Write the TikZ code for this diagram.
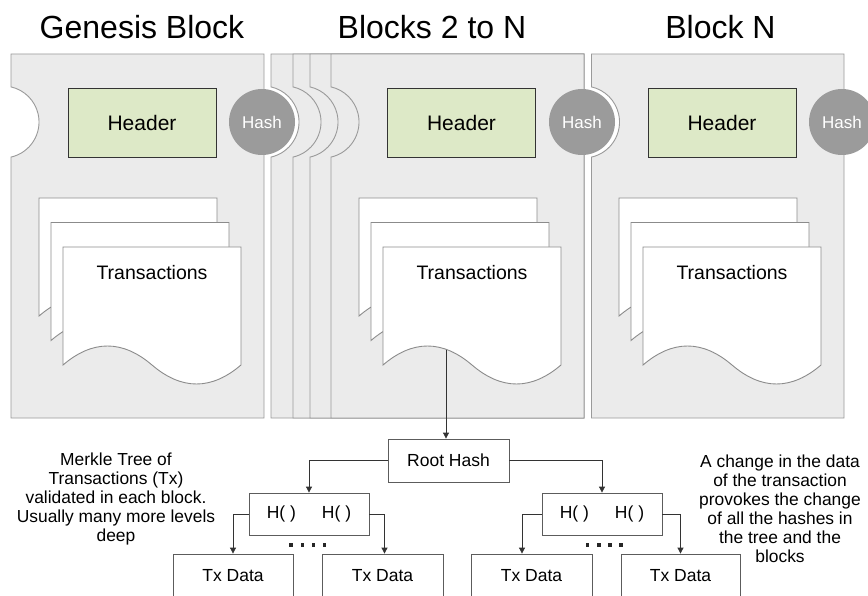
\documentclass[tikz,border=0pt]{standalone}
\usepackage{fontspec}
\setmainfont{Liberation Sans}
\usetikzlibrary{arrows.meta}

\definecolor{blockfill}{HTML}{EBEBEB}
\definecolor{blockline}{HTML}{9A9A9A}
\definecolor{headfill}{HTML}{DDE9C7}
\definecolor{hashfill}{HTML}{9B9B9B}
\definecolor{ink}{HTML}{333333}

% one block sheet: left edge #1, right edge #2, with the round notch
% on its left side that holds the previous block's hash
\newcommand\blocksheet[2]{%
  \draw[sheet] (#1,54) -- (#2,54) -- (#2,418) -- (#1,418) -- (#1,157.1)
    arc[start angle=77.2,end angle=-77.2,radius=36] -- cycle;}

\begin{document}
\begin{tikzpicture}[x=1pt,y=-1pt,
  sheet/.style={fill=blockfill,draw=blockline,line width=0.9pt},
  page/.style={fill=white,draw=blockline!90!black,line width=0.9pt},
  header/.style={draw=ink,fill=headfill,line width=0.9pt,minimum width=148pt,
    minimum height=69pt,inner sep=0pt,font=\fontsize{21}{24}\selectfont},
  hash/.style={circle,fill=hashfill,minimum size=66pt,inner sep=0pt,
    text=white,font=\fontsize{17}{20}\selectfont},
  title/.style={font=\fontsize{32}{38}\selectfont},
  txlabel/.style={font=\fontsize{19.5}{23}\selectfont},
  treebox/.style={draw=ink!80,fill=white,line width=0.8pt,inner sep=0pt,
    font=\fontsize{17.5}{21}\selectfont},
  note/.style={align=center,font=\fontsize{17.4}{19}\selectfont},
  conn/.style={draw=ink,line width=0.8pt,-{Triangle[length=6pt,width=6pt]}},
  docpage/.pic={\draw[page] (0,0) -- (178,0) -- (178,118)
     .. controls (148.33,143.33) and (118.67,143.33) .. (89,118)
     .. controls (59.33,92.67) and (29.67,92.67) .. (0,118) -- cycle;}
]
\clip (0,0) rectangle (868,596);
\fill[white] (0,0) rectangle (868,596);

% block sheets, back to front
\blocksheet{11}{264}
\blocksheet{271}{584}
\blocksheet{293}{584}
\blocksheet{310}{584}
\blocksheet{331}{584}
\blocksheet{591.5}{844}

% transaction stacks
\foreach \dx in {0,320,580}{
  \pic at (39+\dx,198) {docpage};
  \pic at (51+\dx,222.5) {docpage};
  \pic at (63+\dx,247) {docpage};
}
\node[txlabel] (tx-gen) at (152,273) {Transactions};
\node[txlabel] (tx-mid) at (472,273) {Transactions};
\node[txlabel] (tx-end) at (732,273) {Transactions};
\coordinate (txsrc) at (446,350);

% headers
\node[header] (head-gen) at (142,122.5) {Header};
\node[header] (head-mid) at (461.5,122.5) {Header};
\node[header] (head-end) at (722,122.5) {Header};

% hashes
\node[hash] (hash-gen) at (262,122) {Hash};
\node[hash] (hash-mid) at (582,122) {Hash};
\node[hash] (hash-end) at (842,122) {Hash};

% titles
\node[title] (t-gen) at (142,27) {Genesis Block};
\node[title] (t-mid) at (432,27) {Blocks 2 to N};
\node[title] (t-end) at (720.5,27) {Block N};

% Merkle tree
\node[treebox,minimum width=121pt,minimum height=43pt] (root) at (448.5,460.5) {Root Hash};
\node[treebox,minimum width=120pt,minimum height=42pt] (hl) at (309,514) {H(\ )\hspace{26pt}H(\ )};
\node[treebox,minimum width=120pt,minimum height=42pt] (hr) at (602,514) {H(\ )\hspace{26pt}H(\ )};
\node[treebox,minimum width=120pt,minimum height=44pt] (tx1) at (233,576) {Tx Data};
\node[treebox,minimum width=121pt,minimum height=44pt] (tx2) at (382.5,576) {Tx Data};
\node[treebox,minimum width=121pt,minimum height=44pt] (tx3) at (531.5,576) {Tx Data};
\node[treebox,minimum width=119pt,minimum height=44pt] (tx4) at (680.5,576) {Tx Data};

\draw[conn] (txsrc) -- (txsrc |- root.north);
\draw[conn] (root.west) -| (hl.north);
\draw[conn] (root.east) -| (hr.north);
\draw[conn] (hl.west) -| (tx1.north);
\draw[conn] (hl.east) -| ([xshift=2pt]tx2.north);
\draw[conn] (hr.west) -| ([xshift=-9.5pt]tx3.north);
\draw[conn] (hr.east) -| (tx4.north);

% elision dots
\foreach \x in {291,302.5,313.5,324.5,587.5,599,610,621}
  \fill[black!85] (\x-1.8,543.2) rectangle (\x+1.8,546.8);

% notes
\node[note] (note-l) at (116,499) {Merkle Tree of\\Transactions (Tx)\\validated in each block.\\Usually many more levels\\deep};
\node[note] (note-r) at (780,508.5) {A change in the data\\of the transaction\\provokes the change\\of all the hashes in\\the tree and the\\blocks};
\end{tikzpicture}
\end{document}
